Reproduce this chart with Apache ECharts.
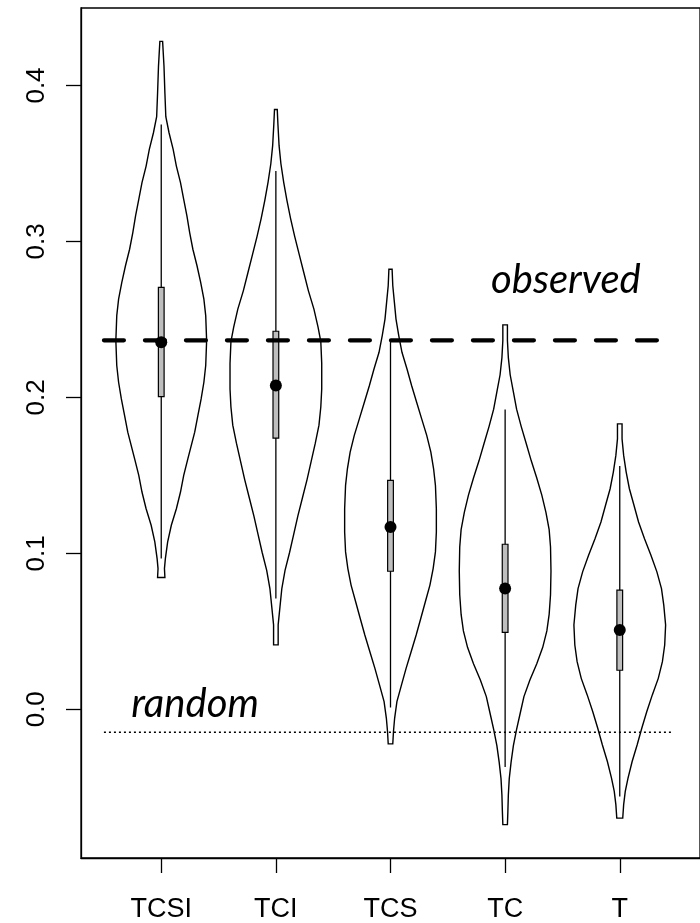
<!DOCTYPE html>
<html>
<head>
<meta charset="utf-8">
<script src="https://cdn.jsdelivr.net/npm/echarts@6/dist/echarts.min.js"></script>
<style>
  html, body { margin: 0; padding: 0; background: #fff; }
  #chart { width: 700px; height: 923px; }
</style>
</head>
<body>
<div id="chart"></div>
<script>
// violin plots: Moran-type statistic per model, observed vs random

var categories = ['TCSI', 'TCI', 'TCS', 'TC', 'T'];
var yTicks = [0, 0.1, 0.2, 0.3, 0.4];

var whiskerHigh = [0.375, 0.3452, 0.236, 0.1922, 0.156];
var q3 = [0.2705, 0.2424, 0.1468, 0.1058, 0.0764];
var medians = [0.2353, 0.2076, 0.1169, 0.0774, 0.0508];
var q1 = [0.2005, 0.1739, 0.0885, 0.0493, 0.025];
var whiskerLow = [0.0966, 0.071, 0.0011, -0.037, -0.056];

// density outline per violin: [value, relative density (max = 1)]
var tcsiShape = [[0.4283, 0.03], [0.4124, 0.06], [0.395, 0.08], [0.380, 0.10], [0.3697, 0.17],
  [0.359, 0.26], [0.3483, 0.33], [0.3377, 0.42], [0.327, 0.49], [0.3164, 0.56], [0.3057, 0.62],
  [0.295, 0.69], [0.2844, 0.78], [0.2737, 0.86], [0.263, 0.93], [0.2524, 0.97], [0.2364, 0.99],
  [0.2204, 0.97], [0.2097, 0.93], [0.199, 0.87], [0.1884, 0.80], [0.1777, 0.73], [0.1606, 0.58],
  [0.15, 0.49], [0.1393, 0.42], [0.1286, 0.33], [0.118, 0.22], [0.1073, 0.14], [0.0966, 0.09],
  [0.0902, 0.07], [0.0845, 0.08]];
var tciShape = [[0.3846, 0.03], [0.375, 0.045], [0.3614, 0.07], [0.3498, 0.11], [0.3381, 0.17],
  [0.3265, 0.24], [0.3148, 0.32], [0.3032, 0.41], [0.2915, 0.51], [0.2799, 0.61], [0.2683, 0.71],
  [0.2566, 0.83], [0.245, 0.92], [0.2357, 0.98], [0.2218, 1.0], [0.2054, 1.0], [0.1938, 0.98],
  [0.1822, 0.94], [0.1706, 0.86], [0.1589, 0.77], [0.1473, 0.68], [0.1356, 0.58], [0.124, 0.48],
  [0.1123, 0.39], [0.1007, 0.30], [0.0891, 0.20], [0.0774, 0.13], [0.0658, 0.09], [0.0541, 0.05],
  [0.0413, 0.05]];
var tcsShape = [[0.2822, 0.035], [0.2716, 0.05], [0.2609, 0.085], [0.2502, 0.12], [0.2396, 0.18],
  [0.2289, 0.25], [0.2182, 0.36], [0.2076, 0.46], [0.1969, 0.57], [0.1862, 0.68], [0.1756, 0.79],
  [0.1649, 0.88], [0.1542, 0.94], [0.1436, 0.98], [0.1286, 1.0], [0.1137, 1.0], [0.1009, 0.98],
  [0.0902, 0.93], [0.0796, 0.86], [0.0689, 0.76], [0.0582, 0.66], [0.0476, 0.56], [0.0369, 0.45],
  [0.0262, 0.34], [0.0156, 0.24], [0.0049, 0.14], [-0.0058, 0.09], [-0.0143, 0.065], [-0.0222, 0.05]];
var tcShape = [[0.2465, 0.05], [0.2365, 0.05], [0.2255, 0.07], [0.2145, 0.11], [0.2035, 0.18],
  [0.1924, 0.25], [0.1814, 0.35], [0.1704, 0.46], [0.1593, 0.57], [0.1483, 0.69], [0.1373, 0.80],
  [0.1262, 0.89], [0.1152, 0.96], [0.1041, 0.99], [0.0887, 1.0], [0.0734, 0.99], [0.0608, 0.96],
  [0.0502, 0.91], [0.0397, 0.82], [0.0292, 0.69], [0.0187, 0.54], [0.0081, 0.41], [-0.0024, 0.33],
  [-0.0129, 0.25], [-0.0234, 0.18], [-0.0339, 0.13], [-0.0445, 0.09], [-0.055, 0.07], [-0.0655, 0.06],
  [-0.074, 0.05]];
var tShape = [[0.183, 0.05], [0.1734, 0.05], [0.1628, 0.085], [0.1521, 0.14], [0.1414, 0.21],
  [0.1308, 0.31], [0.1201, 0.41], [0.1094, 0.54], [0.0988, 0.68], [0.0881, 0.81], [0.0774, 0.91],
  [0.0668, 0.96], [0.054, 1.0], [0.0412, 0.98], [0.0305, 0.93], [0.0198, 0.84], [0.0092, 0.71],
  [-0.0015, 0.59], [-0.0122, 0.48], [-0.0228, 0.38], [-0.0335, 0.27], [-0.0442, 0.18],
  [-0.0527, 0.12], [-0.0612, 0.085], [-0.0698, 0.065]];
var shapes = [tcsiShape, tciShape, tcsShape, tcShape, tShape];

var observedValue = 0.2366;
var randomValue = -0.0147;
var observedSpan = [0.5, 5.35];
var randomSpan = [0.5, 5.47];
var noteTexts = ['observed', 'random'];
var notePositions = [[4.53, 0.275], [1.295, 0.003]];

var violinHalf = 0.4;   // max half width in x units
var boxHalf = 0.025;
var axisFont = 'Liberation Sans, Arial, sans-serif';

var chart = echarts.init(document.getElementById('chart'));

var option = {
  animation: false,
  grid: {
    left: 81, top: 8, width: 623, height: 852,
    show: true, borderColor: '#000', borderWidth: 1.3, backgroundColor: 'transparent'
  },
  xAxis: {
    type: 'value',
    min: 0.3,
    max: 5.7,
    splitLine: { show: false },
    axisLine: { show: true, onZero: false, lineStyle: { color: '#000', width: 1.3 } },
    axisTick: { show: true, customValues: [1, 2, 3, 4, 5], length: 15, lineStyle: { color: '#000', width: 1.3 } },
    axisLabel: {
      customValues: [1, 2, 3, 4, 5],
      margin: 38,
      color: '#000',
      fontFamily: axisFont,
      fontSize: 27,
      formatter: function (v) { return categories[Math.round(v) - 1]; }
    }
  },
  yAxis: {
    type: 'value',
    min: -0.0954,
    max: 0.4497,
    splitLine: { show: false },
    axisLine: { show: true, onZero: false, lineStyle: { color: '#000', width: 1.3 } },
    axisTick: { show: true, customValues: yTicks, length: 15, lineStyle: { color: '#000', width: 1.3 } },
    axisLabel: {
      customValues: yTicks,
      rotate: 90,
      margin: 31,
      color: '#000',
      fontFamily: axisFont,
      fontSize: 26,
      formatter: function (v) { return v.toFixed(1); }
    }
  },
  series: [
    {
      type: 'custom',
      data: categories.map(function (c, i) { return [i + 1]; }),
      encode: { x: 0 },
      renderItem: function (params, api) {
        var i = params.dataIndex;
        var x = i + 1;
        var left = [], right = [];
        shapes[i].forEach(function (p) {
          left.push(api.coord([x - p[1] * violinHalf, p[0]]));
          right.push(api.coord([x + p[1] * violinHalf, p[0]]));
        });
        return {
          type: 'polygon',
          shape: { points: left.concat(right.reverse()) },
          style: { fill: 'none', stroke: '#000', lineWidth: 1.4 }
        };
      },
      silent: true
    },
    {
      type: 'custom',
      data: categories.map(function (c, i) {
        return [i + 1, whiskerLow[i], q1[i], q3[i], whiskerHigh[i]];
      }),
      encode: { x: 0, y: [1, 4] },
      renderItem: function (params, api) {
        var x = api.value(0);
        var lo = api.coord([x, api.value(1)]);
        var hi = api.coord([x, api.value(4)]);
        var b1 = api.coord([x - boxHalf, api.value(3)]);
        var b2 = api.coord([x + boxHalf, api.value(2)]);
        return {
          type: 'group',
          children: [
            { type: 'line', shape: { x1: lo[0], y1: lo[1], x2: hi[0], y2: hi[1] },
              style: { stroke: '#000', lineWidth: 1.3 } },
            { type: 'rect', shape: { x: b1[0], y: b1[1], width: b2[0] - b1[0], height: b2[1] - b1[1] },
              style: { fill: '#bebebe', stroke: '#000', lineWidth: 1.2 } }
          ]
        };
      },
      silent: true
    },
    {
      type: 'scatter',
      data: medians.map(function (m, i) { return [i + 1, m]; }),
      symbol: 'circle',
      symbolSize: 12,
      itemStyle: { color: '#000', opacity: 1 },
      silent: true
    },
    {
      type: 'line',
      data: observedSpan.map(function (x) { return [x, observedValue]; }),
      symbol: 'none',
      lineStyle: { color: '#000', width: 4.2, type: [20, 21], cap: 'round' },
      silent: true
    },
    {
      type: 'line',
      data: randomSpan.map(function (x) { return [x, randomValue]; }),
      symbol: 'none',
      lineStyle: { color: '#000', width: 1.5, type: [2, 3], opacity: 1 },
      silent: true
    },
    {
      type: 'custom',
      data: notePositions,
      renderItem: function (params, api) {
        var p = api.coord([api.value(0), api.value(1)]);
        return {
          type: 'text',
          x: p[0], y: p[1],
          style: {
            text: noteTexts[params.dataIndex],
            fill: '#000',
            font: 'italic 40px Lato, sans-serif',
            textAlign: 'center',
            textVerticalAlign: 'middle'
          }
        };
      },
      silent: true
    }
  ]
};

chart.setOption(option);
window.addEventListener('resize', function () { chart.resize(); });
</script>
</body>
</html>
